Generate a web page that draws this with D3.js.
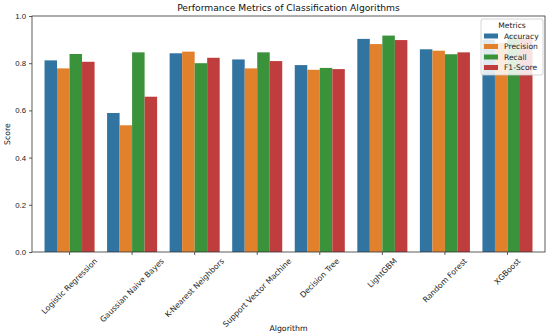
<!DOCTYPE html>
<html>
<head>
<meta charset="utf-8">
<script src="https://cdn.jsdelivr.net/npm/d3@7"></script>
<style>
  body { margin: 0; background: #fff; }
  svg { font-family: "DejaVu Sans", sans-serif; }
</style>
</head>
<body>
<div id="chart"></div>
<script>
const algorithms = ["Logistic Regression", "Gaussian Naive Bayes", "K-Nearest Neighbors",
  "Support Vector Machine", "Decision Tree", "LightGBM", "Random Forest", "XGBoost"];
const metrics = ["Accuracy", "Precision", "Recall", "F1-Score"];
const accuracy  = [0.812, 0.589, 0.842, 0.816, 0.792, 0.903, 0.859, 0.900];
const precision = [0.778, 0.537, 0.849, 0.778, 0.772, 0.881, 0.853, 0.885];
const recall    = [0.839, 0.846, 0.800, 0.846, 0.780, 0.917, 0.838, 0.920];
const f1score   = [0.806, 0.658, 0.823, 0.809, 0.775, 0.898, 0.846, 0.905];
const yTicks = [0, 0.2, 0.4, 0.6, 0.8, 1.0];
const colors = ["#3274a1", "#e1812c", "#3a923a", "#c03d3e"];

const width = 550, height = 336;
const margin = { top: 16, right: 5, bottom: 84, left: 32 };
const innerWidth = width - margin.left - margin.right;
const innerHeight = height - margin.top - margin.bottom;

//data
const series = [accuracy, precision, recall, f1score];
const rows = [];
algorithms.forEach((a, i) => {
  metrics.forEach((m, j) => rows.push({ algo: a, metric: m, value: series[j][i] }));
});

//scale
const xScale = d3.scaleBand().domain(algorithms).range([0, innerWidth]).padding(0.2);
const xInner = d3.scaleBand().domain(metrics).range([0, xScale.bandwidth()]);
const yScale = d3.scaleLinear().domain([0, 1]).range([innerHeight, 0]);
const color = d3.scaleOrdinal().domain(metrics).range(colors);

const svg = d3.select("#chart").append("svg")
  .attr("width", width).attr("height", height);
const g = svg.append("g").attr("transform", `translate(${margin.left},${margin.top})`);

//mark
g.append("g").selectAll("rect")
  .data(rows)
  .join("rect")
  .attr("x", d => xScale(d.algo) + xInner(d.metric))
  .attr("y", d => yScale(d.value))
  .attr("width", xInner.bandwidth())
  .attr("height", d => innerHeight - yScale(d.value))
  .attr("fill", d => color(d.metric));

//axes
const tickColor = "#333";
const fs = 7.8;
const yAxis = g.append("g")
  .call(d3.axisLeft(yScale).tickValues(yTicks).tickFormat(d3.format(".1f")).tickSize(3).tickPadding(3));
const xAxis = g.append("g").attr("transform", `translate(0,${innerHeight})`)
  .call(d3.axisBottom(xScale).tickSize(3));
xAxis.selectAll("text").remove();
[xAxis, yAxis].forEach(a => {
  a.select(".domain").remove();
  a.selectAll("line").attr("stroke", tickColor).attr("stroke-width", 0.8);
  a.selectAll("text").attr("fill", "#222").attr("font-size", fs);
});

// x labels rotated 45, centred under the tick
algorithms.forEach(a => {
  const t = g.append("text")
    .attr("font-size", fs).attr("fill", "#222")
    .attr("text-anchor", "middle").attr("dominant-baseline", "central")
    .text(a);
  const L = t.node().getComputedTextLength();
  const h = (L + fs) * Math.SQRT1_2;
  const cx = xScale(a) + xScale.bandwidth() / 2;
  t.attr("transform", `translate(${cx},${innerHeight + 5 + h / 2}) rotate(-45)`);
});

// frame
g.append("rect").attr("width", innerWidth).attr("height", innerHeight)
  .attr("fill", "none").attr("stroke", tickColor).attr("stroke-width", 0.8);

// title and labels
svg.append("text").attr("x", margin.left + innerWidth / 2).attr("y", 11)
  .attr("text-anchor", "middle").attr("font-size", 9.2).attr("fill", "#111")
  .text("Performance Metrics of Classification Algorithms");
svg.append("text").attr("x", margin.left + innerWidth / 2).attr("y", 331)
  .attr("text-anchor", "middle").attr("font-size", fs).attr("fill", "#111")
  .text("Algorithm");
svg.append("text")
  .attr("transform", `translate(10,${margin.top + innerHeight / 2}) rotate(-90)`)
  .attr("text-anchor", "middle").attr("font-size", fs).attr("fill", "#111")
  .text("Score");

//legend
const lg = svg.append("g").attr("transform", "translate(481,19)");
lg.append("rect").attr("width", 62).attr("height", 56).attr("rx", 2)
  .attr("fill", "#fff").attr("fill-opacity", 0.85)
  .attr("stroke", "#ccc").attr("stroke-width", 0.8);
lg.append("text").attr("x", 31).attr("y", 9).attr("text-anchor", "middle")
  .attr("font-size", 7.6).attr("fill", "#222").text("Metrics");
metrics.forEach((m, i) => {
  const yy = 17 + i * 10.5;
  lg.append("rect").attr("x", 3).attr("y", yy - 2.5).attr("width", 14).attr("height", 5)
    .attr("fill", color(m));
  lg.append("text").attr("x", 23).attr("y", yy).attr("dominant-baseline", "central")
    .attr("font-size", 7.6).attr("fill", "#222").text(m);
});
</script>
</body>
</html>
